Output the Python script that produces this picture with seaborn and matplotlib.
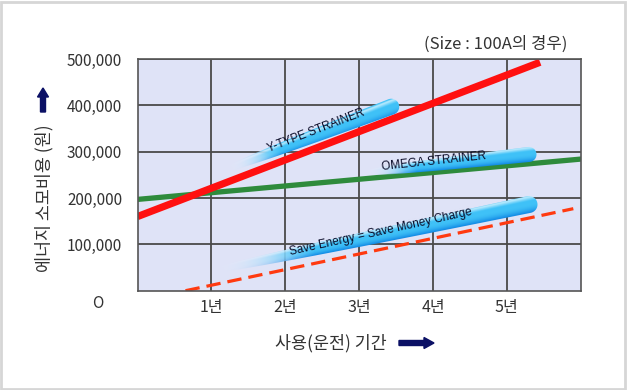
import numpy as np
import pandas as pd
import matplotlib
matplotlib.use('Agg')
import matplotlib.pyplot as plt
import seaborn as sns
from matplotlib.patches import Polygon, FancyArrow, Rectangle
from matplotlib.ticker import FuncFormatter

# data (years, cost in won)
years_ytype = [0, 5.45]
cost_ytype = [160000, 493000]
years_omega = [0, 6]
cost_omega = [197000, 284000]
years_save = [0.65, 5.9]
cost_save = [0, 177000]

year_ticks = [1, 2, 3, 4, 5]
year_labels = ['1년', '2년', '3년', '4년', '5년']
cost_ticks = [100000, 200000, 300000, 400000, 500000]

sns.set_theme(style='white')
plt.rcParams['font.family'] = ['Noto Sans CJK KR', 'DejaVu Sans']

W, H = 627, 390
fig = plt.figure(figsize=(W / 100, H / 100), dpi=100)
fig.patch.set_facecolor('white')
L, B, AW, AH = 137.5 / W, 1 - 290.7 / H, 443.2 / W, 231.7 / H
ax = fig.add_axes([L, B, AW, AH])
ax.set_facecolor('#dfe3f7')

XMAX, YMAX = 6, 500000

df = pd.concat([
    pd.DataFrame({'year': years_ytype, 'cost': cost_ytype, 'kind': 'ytype'}),
    pd.DataFrame({'year': years_omega, 'cost': cost_omega, 'kind': 'omega'}),
    pd.DataFrame({'year': years_save, 'cost': cost_save, 'kind': 'save'}),
])

sns.lineplot(data=df[df.kind == 'omega'], x='year', y='cost', ax=ax,
             color='#2e8b3c', linewidth=3.8, zorder=2)
sns.lineplot(data=df[df.kind == 'ytype'], x='year', y='cost', ax=ax,
             color='#ff1010', linewidth=5.2, zorder=2, solid_capstyle='butt')
sns.lineplot(data=df[df.kind == 'save'], x='year', y='cost', ax=ax,
             color='#ff3a10', linewidth=2.3, linestyle=(0, (4.5, 2.2)), zorder=2)

ax.set_xlim(0, XMAX)
ax.set_ylim(0, YMAX)
ax.set_xticks(year_ticks)
ax.set_xticklabels(year_labels)
ax.set_yticks(cost_ticks)
ax.yaxis.set_major_formatter(FuncFormatter(lambda v, p: f'{int(v):,}'))
ax.tick_params(length=0, labelcolor='#333333')
ax.tick_params(axis='y', pad=11, labelsize=11)
ax.tick_params(axis='x', pad=6, labelsize=11.5)
ax.grid(True, color='#4a4a4a', linewidth=1.3)
ax.set_axisbelow(True)
for s in ax.spines.values():
    s.set_color('#555555')
    s.set_linewidth(1.2)
ax.set_xlabel('')
ax.set_ylabel('')


def streak(start, end, width_px):
    # glossy tapered cyan streak, built in axes pixel space
    axw, axh = AW * W, AH * H
    p0 = np.array([start[0] / XMAX * axw, start[1] / YMAX * axh])
    p1 = np.array([end[0] / XMAX * axw, end[1] / YMAX * axh])
    d = p1 - p0
    ln = np.hypot(*d)
    u = d / ln
    n = np.array([-u[1], u[0]])
    t = np.linspace(0, 1, 80)
    half = width_px / 2 * t ** 0.3
    top = p0 + np.outer(t, d) + np.outer(half, n)
    bot = p0 + np.outer(t, d) - np.outer(half, n)
    ang = np.linspace(np.pi / 2, -np.pi / 2, 30)
    r = width_px / 2
    cap = p1 + np.outer(r * np.cos(ang), u) + np.outer(r * np.sin(ang), n)
    pts = np.vstack([top, cap, bot[::-1]])
    patch = Polygon(pts / [axw, axh], closed=True, transform=ax.transAxes,
                    facecolor='none', edgecolor='none')
    ax.add_patch(patch)
    xmin, ymin = pts.min(axis=0) - 2
    xmax, ymax = pts.max(axis=0) + 2
    gx, gy = np.meshgrid(np.linspace(xmin, xmax, 400), np.linspace(ymin, ymax, 120))
    rel = np.stack([gx - p0[0], gy - p0[1]], axis=-1)
    s = np.clip((rel @ u) / ln, 0, 1)
    hw = np.maximum(width_px / 2 * s ** 0.3, 1e-3)
    cn = np.clip((rel @ n) / hw, -1, 1)
    dark = np.array([0.08, 0.55, 0.90])
    mid = np.array([0.25, 0.76, 0.97])
    light = np.array([0.88, 0.97, 1.0])
    lo = np.clip(-cn, 0, 1)[..., None] ** 2
    hi = np.clip((cn - 0.35) / 0.45, 0, 1)[..., None] * np.clip((1 - cn) / 0.15, 0, 1)[..., None]
    rgb = mid * (1 - lo) + dark * lo
    rgb = rgb * (1 - 0.75 * hi) + light * 0.75 * hi
    fade = np.clip(s / 0.32, 0, 1)[..., None] ** 1.3
    rgb = rgb * fade + np.array([0.93, 0.95, 1.0]) * (1 - fade)
    alpha = np.clip(s / 0.25, 0, 1) ** 1.2
    img = np.dstack([rgb, alpha])
    im = ax.imshow(img, extent=[xmin / axw, xmax / axw, ymin / axh, ymax / axh],
                   transform=ax.transAxes, origin='lower', aspect='auto',
                   interpolation='bilinear', zorder=3)
    im.set_clip_path(patch)


streak((1.205, 262000), (3.435, 397000), 16)
streak((3.05, 254000), (5.30, 294000), 15)
streak((1.02, 43000), (5.30, 186000), 17)
ax.set_xlim(0, XMAX)
ax.set_ylim(0, YMAX)

tkw = dict(fontsize=8.4, color='#0a0c28', ha='center', va='center', zorder=4,
           family=['Liberation Sans', 'DejaVu Sans'])
ax.text(2.42, 345000, 'Y-TYPE STRAINER', rotation=21, **tkw)
ax.text(4.01, 279000, 'OMEGA STRAINER', rotation=6, **tkw)
ax.text(3.30, 126000, 'Save Energy = Save Money Charge', rotation=12.5, **tkw)


# labels and decorations in figure pixel coordinates
def fx(px):
    return px / W


def fy(py):
    return 1 - py / H


fig.text(fx(98), fy(303), 'O', fontsize=11, color='#333333', ha='center', va='center')
fig.text(fx(44), fy(198), '에너지 소모비용 (원)', rotation=90, fontsize=12.5,
         color='#333333', ha='center', va='center')
fig.text(fx(331), fy(343), '사용(운전) 기간', fontsize=12.5, color='#333333',
         ha='center', va='center')
fig.text(fx(567), fy(44), '(Size : 100A의 경우)', fontsize=12, color='#333333',
         ha='right', va='center')

navy = '#0b1065'
fig.patches.append(FancyArrow(fx(43), fy(112), 0, fy(88) - fy(112),
                              width=5 / W, head_width=11 / W, head_length=9 / H,
                              length_includes_head=True, color=navy,
                              transform=fig.transFigure, figure=fig))
fig.patches.append(FancyArrow(fx(399), fy(343), fx(434) - fx(399), 0,
                              width=5 / H, head_width=11 / H, head_length=10 / W,
                              length_includes_head=True, color=navy,
                              transform=fig.transFigure, figure=fig))
fig.patches.append(Rectangle((0.002, 0.003), 0.995, 0.993, fill=False,
                             edgecolor='#d6d6d6', linewidth=2,
                             transform=fig.transFigure, figure=fig))

fig.savefig('out.png', dpi=100)
